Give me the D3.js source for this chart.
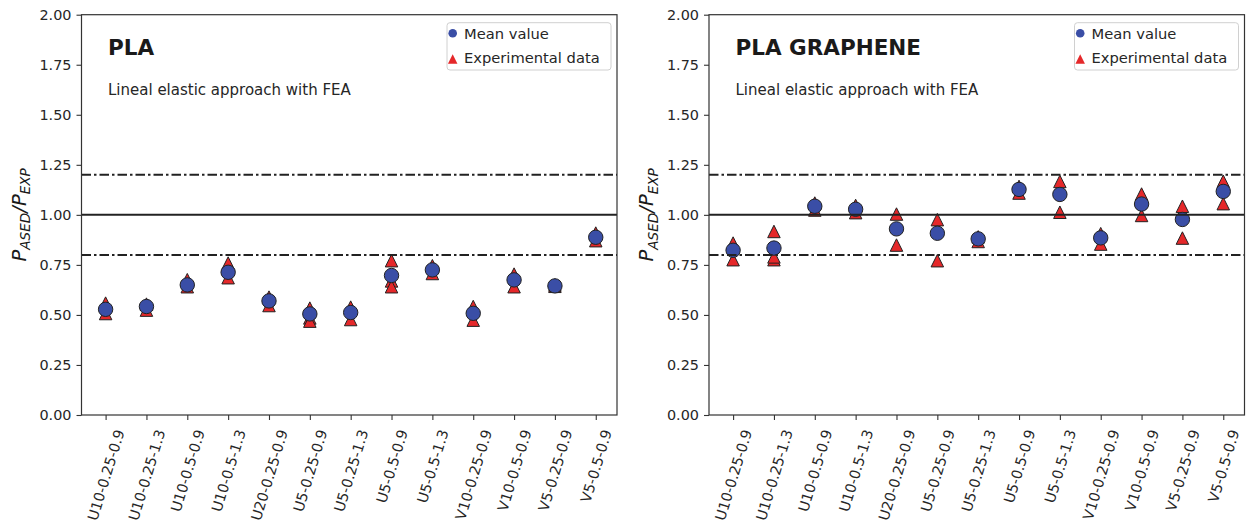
<!DOCTYPE html>
<html>
<head>
<meta charset="utf-8">
<style>
  body { margin: 0; background: #fff; font-family: "DejaVu Sans", sans-serif; }
  .tick text { font-size: 14.4px; fill: #262626; font-family: "DejaVu Sans", sans-serif; }
  .tick line { stroke: #333; stroke-width: 1.1; }
  .frame { fill: none; stroke: #333; stroke-width: 1.2; }
  .ref { stroke: #222; stroke-width: 2; fill: none; }
  .title { font-size: 21.5px; font-weight: bold; fill: #1a1a1a; }
  .subtitle { font-size: 15px; fill: #262626; }
  .legend text { font-size: 14.7px; fill: #262626; }
  .ylabel { font-size: 19.5px; font-style: italic; fill: #1a1a1a; }
</style>
</head>
<body>
<svg id="chart" width="1249" height="525"></svg>
<script src="https://cdnjs.cloudflare.com/ajax/libs/d3/7.8.5/d3.min.js"></script>
<script>
const categories = ["U10-0.25-0.9", "U10-0.25-1.3", "U10-0.5-0.9", "U10-0.5-1.3", "U20-0.25-0.9",
  "U5-0.25-0.9", "U5-0.25-1.3", "U5-0.5-0.9", "U5-0.5-1.3", "V10-0.25-0.9",
  "V10-0.5-0.9", "V5-0.25-0.9", "V5-0.5-0.9"];
const yTicks = [0, 0.25, 0.5, 0.75, 1.0, 1.25, 1.5, 1.75, 2.0];

// PLA
const plaMean = [0.528, 0.542, 0.650, 0.713, 0.570, 0.505, 0.512, 0.697, 0.725, 0.508, 0.675, 0.645, 0.888];
const plaExp = [
  [0.559, 0.507], [0.554, 0.524], [0.676, 0.641], [0.759, 0.686], [0.589, 0.547],
  [0.534, 0.485, 0.469], [0.539, 0.477], [0.771, 0.670, 0.641], [0.746, 0.707], [0.542, 0.474],
  [0.704, 0.641], [0.650, 0.643], [0.909, 0.871]
];

// PLA GRAPHENE
const grMean = [0.823, 0.834, 1.043, 1.028, 0.930, 0.908, 0.880, 1.127, 1.102, 0.885, 1.054, 0.977, 1.117];
const grExp = [
  [0.859, 0.776], [0.917, 0.776, 0.790], [1.059, 1.024], [1.047, 1.011], [1.004, 0.849],
  [0.976, 0.771], [0.890, 0.867], [1.142, 1.109], [1.167, 1.013], [0.906, 0.854],
  [1.104, 0.997], [1.043, 0.884], [1.168, 1.056]
];

const refLines = [
  { value: 1.2, dashed: true },
  { value: 1.0, dashed: false },
  { value: 0.8, dashed: true }
];

const panels = [
  { title: "PLA", mean: plaMean, exp: plaExp, left: 81.5 },
  { title: "PLA GRAPHENE", mean: grMean, exp: grExp, left: 709 }
];

const marginTop = 14.7;
const plotW = 535.5;
const plotH = 400.3;
const blue = "#3a4ea6";
const red = "#e5282a";

// matplotlib style '^': bbox centred on the data point
const triangleUp = {
  draw(ctx, size) {
    const s = Math.sqrt(size);
    ctx.moveTo(0, -s / 2);
    ctx.lineTo(s / 2, s / 2);
    ctx.lineTo(-s / 2, s / 2);
    ctx.closePath();
  }
};

const svg = d3.select("#chart");

const x = d3.scaleLinear().domain([-0.59, 12.52]).range([0, plotW]);
const y = d3.scaleLinear().domain([0, 2]).range([plotH, 0]);

panels.forEach(p => {
  const g = svg.append("g").attr("transform", `translate(${p.left},${marginTop})`);

  // y axis
  g.append("g")
    .call(d3.axisLeft(y).tickValues(yTicks).tickFormat(d3.format(".2f")).tickSize(5).tickPadding(5))
    .call(a => a.select(".domain").remove());

  // x axis
  const xa = g.append("g")
    .attr("transform", `translate(0,${plotH})`)
    .call(d3.axisBottom(x).tickValues(d3.range(categories.length))
      .tickFormat(i => categories[i]).tickSize(5))
    .call(a => a.select(".domain").remove());

  const ang = 73 * Math.PI / 180;
  xa.selectAll(".tick text")
    .attr("text-anchor", "middle")
    .attr("dominant-baseline", "central")
    .attr("x", 0).attr("y", 0).attr("dy", null)
    .each(function() {
      const L = this.getComputedTextLength();
      const cy = 13 + (L * Math.sin(ang) + 14.4 * Math.cos(ang)) / 2;
      d3.select(this).attr("transform", `translate(0,${cy}) rotate(-73)`);
    });

  // experimental triangles
  const expPts = [];
  p.exp.forEach((vals, i) => vals.forEach(v => expPts.push({ i, v })));
  g.append("g").selectAll("path")
    .data(expPts)
    .join("path")
    .attr("transform", d => `translate(${x(d.i)},${y(d.v)})`)
    .attr("d", d3.symbol(triangleUp, 12.5 * 12.5))
    .attr("fill", red)
    .attr("stroke", "#222")
    .attr("stroke-width", 1);

  // mean circles
  g.append("g").selectAll("circle")
    .data(p.mean)
    .join("circle")
    .attr("cx", (d, i) => x(i))
    .attr("cy", d => y(d))
    .attr("r", 7.2)
    .attr("fill", blue)
    .attr("stroke", "#222")
    .attr("stroke-width", 1);

  // reference lines
  g.append("g").selectAll("line")
    .data(refLines)
    .join("line")
    .attr("class", "ref")
    .attr("x1", 0).attr("x2", plotW)
    .attr("y1", d => y(d.value)).attr("y2", d => y(d.value))
    .attr("stroke-dasharray", d => d.dashed ? "9.5,3,2.5,3" : null);

  // frame
  g.append("rect").attr("class", "frame")
    .attr("width", plotW).attr("height", plotH);

  // titles
  g.append("text").attr("class", "title")
    .attr("x", 26.5).attr("y", 40.3).text(p.title);
  g.append("text").attr("class", "subtitle")
    .attr("x", 26.5).attr("y", 80.3).text("Lineal elastic approach with FEA");

  // legend
  const lg = g.append("g").attr("class", "legend").attr("transform", `translate(${plotW - 170},8)`);
  lg.append("rect")
    .attr("width", 164).attr("height", 47.3).attr("rx", 3)
    .attr("fill", "#fff").attr("fill-opacity", 0.8)
    .attr("stroke", "#d0d0d0").attr("stroke-width", 1);
  lg.append("circle").attr("cx", 5.7).attr("cy", 10.6).attr("r", 4.3).attr("fill", blue);
  lg.append("text").attr("x", 17).attr("y", 16.3).text("Mean value");
  lg.append("path")
    .attr("transform", "translate(5.7,36.3)")
    .attr("d", d3.symbol(triangleUp, 9.5 * 9.5))
    .attr("fill", red);
  lg.append("text").attr("x", 17).attr("y", 40.8).text("Experimental data");

  // y label
  const yl = g.append("text").attr("class", "ylabel")
    .attr("text-anchor", "middle")
    .attr("transform", `translate(-56,${plotH / 2}) rotate(-90)`);
  yl.append("tspan").text("P");
  yl.append("tspan").attr("font-size", "13.6px").attr("dy", 4.5).text("ASED");
  yl.append("tspan").attr("dy", -4.5).text("/P");
  yl.append("tspan").attr("font-size", "13.6px").attr("dy", 4.5).text("EXP");
});
</script>
</body>
</html>
